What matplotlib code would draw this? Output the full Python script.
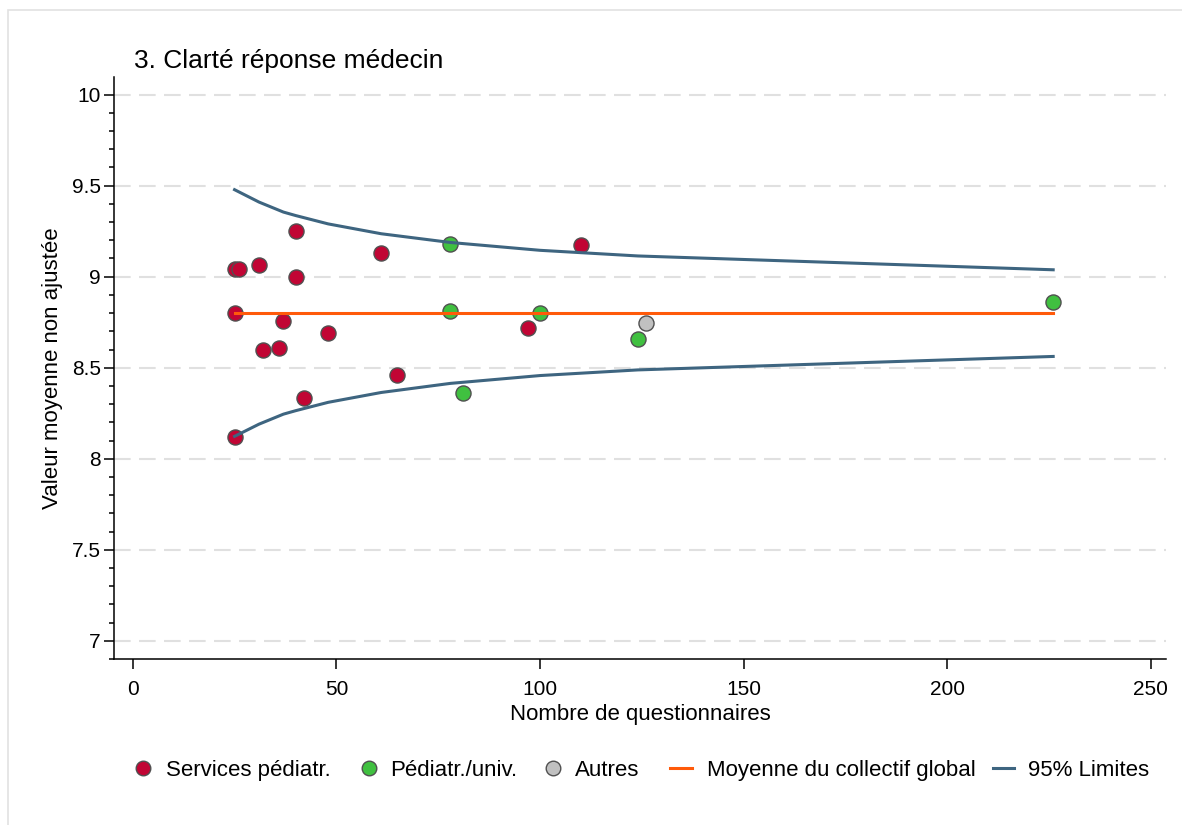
import matplotlib
matplotlib.use("Agg")
import matplotlib.pyplot as plt
from matplotlib.patches import Rectangle
from matplotlib.lines import Line2D
from matplotlib.ticker import MultipleLocator

plt.rcParams["font.family"] = ["Liberation Sans", "DejaVu Sans"]

# number of questionnaires / unadjusted mean per unit
services_n = [25, 26, 31, 40, 40, 61, 25, 37, 32, 36, 48, 65, 42, 25, 110, 97]
services_y = [9.04, 9.04, 9.065, 9.25, 9.0, 9.13, 8.80, 8.755, 8.595, 8.61,
              8.69, 8.46, 8.335, 8.12, 9.175, 8.72]
univ_n = [78, 78, 81, 100, 124, 226]
univ_y = [9.18, 8.81, 8.36, 8.80, 8.66, 8.86]
autres_n = [126]
autres_y = [8.745]

# overall mean and 95% funnel limits
mean_n = [25, 226]
mean_y = [8.80, 8.80]
lim_n = [25, 31, 37, 40, 48, 61, 78, 100, 124, 226]
lim_upper = [9.478, 9.41, 9.355, 9.336, 9.29, 9.236, 9.188, 9.145, 9.114, 9.038]
lim_lower = [8.123, 8.19, 8.245, 8.264, 8.31, 8.364, 8.414, 8.457, 8.488, 8.562]

legend_labels = ["Services pédiatr.", "Pédiatr./univ.", "Autres",
                 "Moyenne du collectif global", "95% Limites"]

RED = "#c10534"
GREEN = "#40c040"
GREY = "#c0c0c0"
ORANGE = "#ff5a0a"
BLUE = "#3e6580"
EDGE = "#505050"

W, H = 1182, 825
fig = plt.figure(figsize=(W / 100, H / 100), dpi=100)
ax = fig.add_axes([114 / W, 1 - 659 / H, (1166 - 114) / W, (659 - 77) / H])

# light outer frame
fig.patches.append(Rectangle((8 / W, -0.1), 1.2, 1 - 10.5 / H + 0.1,
                             transform=fig.transFigure, fill=False,
                             edgecolor="#e2e2e2", linewidth=1.2))

ms = 118
ax.scatter(services_n, services_y, s=ms, color=RED, edgecolor=EDGE, linewidth=1, zorder=3)
ax.scatter(univ_n, univ_y, s=ms, color=GREEN, edgecolor=EDGE, linewidth=1, zorder=3)
ax.scatter(autres_n, autres_y, s=ms, color=GREY, edgecolor=EDGE, linewidth=1, zorder=3)
ax.plot(mean_n, mean_y, color=ORANGE, linewidth=2.2, zorder=4)
ax.plot(lim_n, lim_upper, color=BLUE, linewidth=2.2, zorder=4)
ax.plot(lim_n, lim_lower, color=BLUE, linewidth=2.2, zorder=4)

ax.set_xlim(-4.6, 253.7)
ax.set_ylim(6.90, 10.097)
ax.set_xticks([0, 50, 100, 150, 200, 250])
ax.set_yticks([7, 7.5, 8, 8.5, 9, 9.5, 10])
ax.set_yticklabels(["7", "7.5", "8", "8.5", "9", "9.5", "10"])
ax.yaxis.set_minor_locator(MultipleLocator(0.1))
ax.tick_params(axis="both", which="major", labelsize=15, width=1.1, length=7, color="black")
ax.tick_params(axis="x", pad=8)
ax.tick_params(axis="y", pad=2.5)
ax.tick_params(axis="y", which="minor", length=3.8, width=1.1)

for s in ["top", "right"]:
    ax.spines[s].set_visible(False)
for s in ["left", "bottom"]:
    ax.spines[s].set_linewidth(1.1)

ax.yaxis.grid(True, color="#e0e0e0", linestyle=(0, (8, 4)), linewidth=1.5)
ax.set_axisbelow(True)

fig.text(134 / W, 1 - 68 / H, "3. Clarté réponse médecin", fontsize=19,
         ha="left", va="baseline")
fig.text(640 / W, 1 - 720 / H, "Nombre de questionnaires", fontsize=16,
         ha="center", va="baseline")
fig.text(53 / W, 1 - 368 / H, "Valeur moyenne non ajustée", fontsize=16,
         ha="center", va="center", rotation=90)

# legend row laid out by hand (key position, text start) in pixels
ly = 1 - 768 / H
keys = [("o", RED, 143, 166), ("o", GREEN, 369, 390), ("o", GREY, 553, 575),
        ("-", ORANGE, (670, 692), 707), ("-", BLUE, (993, 1014), 1028)]
for (kind, col, kx, tx), lab in zip(keys, legend_labels):
    if kind == "o":
        fig.add_artist(Line2D([kx / W], [ly], marker="o", markersize=10.5,
                              markerfacecolor=col, markeredgecolor=EDGE,
                              linestyle="none", transform=fig.transFigure))
    else:
        fig.add_artist(Line2D([kx[0] / W, kx[1] / W], [ly, ly], color=col,
                              linewidth=2.2, transform=fig.transFigure))
    fig.text(tx / W, ly, lab, fontsize=16, ha="left", va="center_baseline")

fig.savefig("out.png", dpi=100)
